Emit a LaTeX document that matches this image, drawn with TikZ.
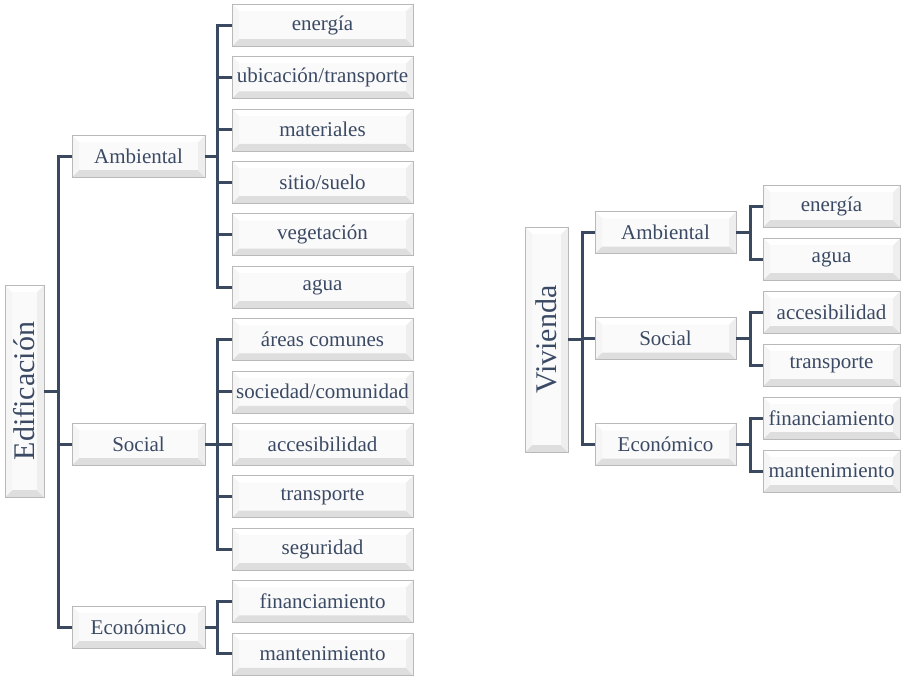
\documentclass[tikz,border=0pt]{standalone}
\usepackage{fontspec}
\setmainfont{Liberation Serif}
\definecolor{tinta}{HTML}{3B4A64}
\definecolor{linea}{HTML}{3A4960}
\tikzset{
    bisel/.style={path picture={
        \coordinate (sw) at (path picture bounding box.south west);
        \coordinate (se) at (path picture bounding box.south east);
        \coordinate (nw) at (path picture bounding box.north west);
        \coordinate (ne) at (path picture bounding box.north east);
        \fill[gray!26] (sw) -- (se) -- ([shift={(-7pt,7pt)}]se) -- ([shift={(7pt,7pt)}]sw) -- cycle;
        \fill[gray!13] (se) -- (ne) -- ([shift={(-7pt,-7pt)}]ne) -- ([shift={(-7pt,7pt)}]se) -- cycle;
        \fill[white] (nw) -- (ne) -- ([shift={(-7pt,-7pt)}]ne) -- ([shift={(7pt,-7pt)}]nw) -- cycle;
        \fill[gray!8] (sw) -- (nw) -- ([shift={(7pt,-7pt)}]nw) -- ([shift={(7pt,7pt)}]sw) -- cycle;
    }},
    caja/.style={draw=gray!55, fill=gray!4, bisel, inner sep=0pt, text=tinta,
        font=\fontsize{21}{21}\selectfont, minimum height=42pt},
    hoja/.style={caja, minimum width=181pt},
    hojav/.style={caja, minimum width=137pt},
    rama/.style={caja, minimum width=133pt},
    ramav/.style={caja, minimum width=141pt},
    raiz/.style={caja, font=\fontsize{30}{30}\selectfont},
    conector/.style={draw=linea, line width=3pt},
}
\begin{document}
\begin{tikzpicture}[x=1pt, y=-1pt]
    \useasboundingbox (0,0) rectangle (902,675);

    % Edificacion
    \node[raiz, minimum width=39pt, minimum height=212pt] (edif) at (24.5,391) {\rotatebox{90}{Edificación}};
    \node[rama] (amb) at (138.5,156) {Ambiental};
    \node[rama] (soc) at (138.5,444) {Social};
    \node[rama] (eco) at (138.5,627) {Económico};
    \foreach \t [count=\i from 0] in {energía, {ubicación/transporte}, materiales,
        sitio/suelo, vegetación, agua, áreas comunes, {sociedad/comunidad},
        accesibilidad, transporte, seguridad, financiamiento, mantenimiento}
        \node[hoja] (hE\i) at (322.5,{25+52.4*\i}) {\t};

    \coordinate (troncoE) at (58,391);
    \coordinate (ramaAmb) at (217,156);
    \coordinate (ramaSoc) at (217,444);
    \coordinate (ramaEco) at (217,627);
    \draw[conector] (edif.east) -- (troncoE);
    \foreach \r in {amb,soc,eco}
        \draw[conector] (troncoE) |- (\r.west);
    \draw[conector] (amb.east) -- (ramaAmb);
    \draw[conector] (soc.east) -- (ramaSoc);
    \draw[conector] (eco.east) -- (ramaEco);
    \foreach \i in {0,...,5}
        \draw[conector] (ramaAmb) |- (hE\i.west);
    \foreach \i in {6,...,10}
        \draw[conector] (ramaSoc) |- (hE\i.west);
    \foreach \i in {11,12}
        \draw[conector] (ramaEco) |- (hE\i.west);

    % Vivienda
    \node[raiz, minimum width=43pt, minimum height=225pt] (viv) at (546.5,339.5) {\rotatebox{90}{Vivienda}};
    \node[ramav] (ambv) at (665.5,232.5) {Ambiental};
    \node[ramav] (socv) at (665.5,338.5) {Social};
    \node[ramav] (ecov) at (665.5,444.5) {Económico};
    \foreach \t [count=\i from 0] in {energía, agua, accesibilidad, transporte,
        financiamiento, mantenimiento}
        \node[hojav] (hV\i) at (831.5,{206+53*\i}) {\t};

    \coordinate (troncoV) at (582,339.5);
    \coordinate (ramaAmbV) at (750,232.5);
    \coordinate (ramaSocV) at (750,338.5);
    \coordinate (ramaEcoV) at (750,444.5);
    \draw[conector] (viv.east) -- (troncoV);
    \foreach \r in {ambv,socv,ecov}
        \draw[conector] (troncoV) |- (\r.west);
    \draw[conector] (ambv.east) -- (ramaAmbV);
    \draw[conector] (socv.east) -- (ramaSocV);
    \draw[conector] (ecov.east) -- (ramaEcoV);
    \foreach \i in {0,1}
        \draw[conector] (ramaAmbV) |- (hV\i.west);
    \foreach \i in {2,3}
        \draw[conector] (ramaSocV) |- (hV\i.west);
    \foreach \i in {4,5}
        \draw[conector] (ramaEcoV) |- (hV\i.west);
\end{tikzpicture}
\end{document}
